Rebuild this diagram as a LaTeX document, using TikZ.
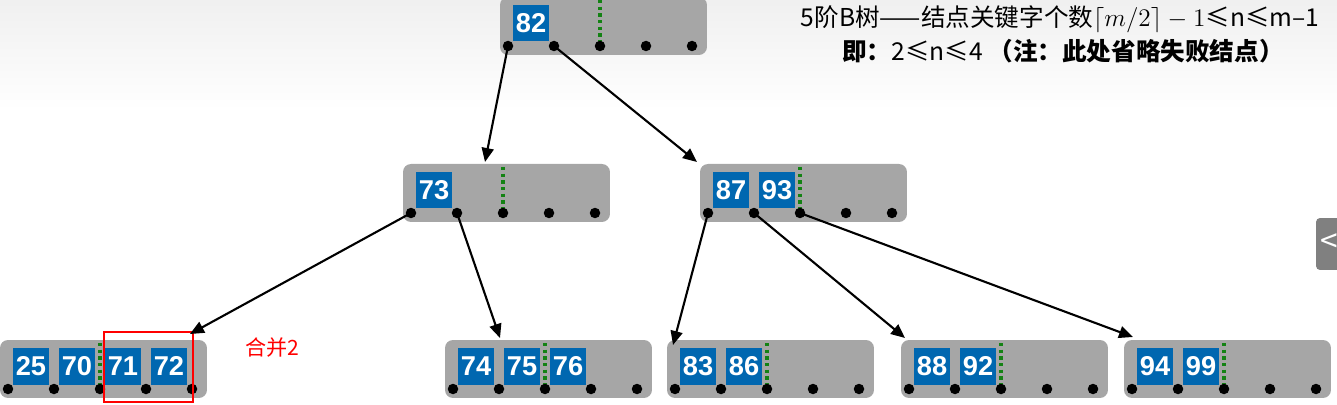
\documentclass[tikz,border=0pt]{standalone}
\usepackage{fontspec}
\newfontfamily\cjk{Noto Sans CJK SC}
\newfontfamily\keyfont{Liberation Sans}
\usetikzlibrary{arrows.meta,calc,positioning}
\definecolor{nodegray}{RGB}{166,166,166}
\definecolor{keyblue}{RGB}{0,103,176}
\definecolor{sepgreen}{RGB}{20,130,20}
\definecolor{tabgray}{RGB}{128,128,128}

\begin{document}
\begin{tikzpicture}[x=0.02cm,y=-0.02cm,
  every node/.style={inner sep=0pt,outer sep=0pt},
  bnode/.style={fill=nodegray,rounded corners=0.16cm,minimum width=4.14cm,minimum height=1.16cm,anchor=north west},
  key/.style={fill=keyblue,text=white,minimum width=0.72cm,minimum height=0.74cm,font=\keyfont\bfseries\fontsize{15.5}{16}\selectfont},
  ptr/.style={circle,fill=black,minimum size=0.21cm},
  sep/.style={draw=sepgreen,dotted,line width=1.8pt},
  link/.style={draw,line width=1.2pt,-{Triangle[length=0.28cm,width=0.24cm]}}]

\useasboundingbox (0,0) rectangle (1337,405);
\shade[top color=black!6,bottom color=white] (0,0) rectangle (1337,110);

% B-tree nodes: name/left/top/keys
\foreach \nm/\lx/\ty/\keys in {r/500/-3/{82},a/403/164/{73},b/700/164/{87,93},
  c/0/340/{25,70,71,72},d/445/340/{74,75,76},e/667/340/{83,86},
  f/901/340/{88,92},g/1124/340/{94,99}}{
  \node[bnode] (\nm) at (\lx,\ty) {};
  \draw[sep] (\lx+100,\ty+3) -- (\lx+100,\ty+45);
  \foreach \k [count=\i from 0] in \keys
    \node[key] (\nm k\i) at (\lx+31+46*\i,\ty+26) {\k};
  \foreach \j in {0,...,4}
    \node[ptr] (\nm p\j) at (\lx+8+46*\j,\ty+49) {};
}

% merge mark
\node[draw=red,line width=1.1pt,minimum width=1.78cm,minimum height=1.4cm,anchor=north west] (merge) at (104,332) {};
\node[text=red,font=\cjk\fontsize{12}{12}\selectfont] (mlabel) at (272,348) {合并2};

% pointers
\draw[link] (rp0.center) -- ($(a.north west)+(82,-2)$);
\draw[link] (rp1.center) -- ($(b.north west)+(-3,-2)$);
\draw[link] (ap0.center) -- ($(merge.north east)+(-3,2)$);
\draw[link] (ap1.center) -- ($(d.north west)+(55,-2)$);
\draw[link] (bp0.center) -- ($(e.north west)+(6,5)$);
\draw[link] (bp1.center) -- ($(f.north west)+(4,-2)$);
\draw[link] (bp2.center) -- ($(g.north west)+(9,-3)$);

% caption
\node[font=\cjk\fontsize{14}{14}\selectfont] (title) at (1060,19) {5阶B树——结点关键字个数$\lceil m/2\rceil - 1$≤n≤m–1};
\node[font=\cjk\bfseries\fontsize{14}{14}\selectfont] (note) at (1063,51) {即：{\mdseries 2≤n≤4} （注：此处省略失败结点）};

\node[fill=tabgray,rounded corners=0.08cm,minimum width=0.5cm,minimum height=1.04cm,anchor=north west] (tab) at (1316,218) {};
\node[text=white,font=\cjk\fontsize{18}{18}\selectfont] (tabmark) at (1329,243) {<};
\end{tikzpicture}
\end{document}
